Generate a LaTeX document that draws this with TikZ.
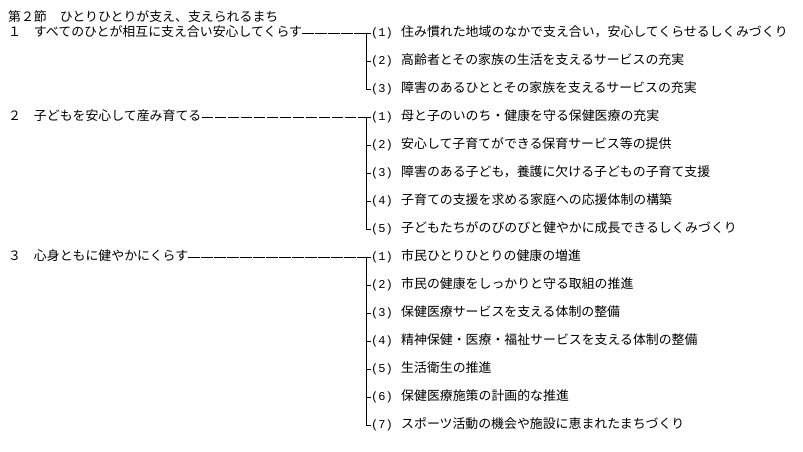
\documentclass[tikz,border=0pt]{standalone}
\usepackage{fontspec}
\newfontfamily\jpfont{Noto Sans CJK JP}
\newfontfamily\numfont{Liberation Mono}
\begin{document}
\begin{tikzpicture}[x=1pt,y=-1pt,line join=round,font=\jpfont\fontsize{12.9}{14}\selectfont,
    inner sep=0pt,
    txt/.style={anchor=west,text height=10pt,text depth=2.5pt},
    num/.style={txt,font=\numfont\fontsize{12}{14}\selectfont},
    rule/.style={line width=.8pt},
    dashrule/.style={rule,dash pattern=on 11.5pt off 1.5pt}]
    \useasboundingbox (0,0) rectangle (803,451);
    \def\bx{366} % x of the branch line
    \def\nx{371} % x of the numbers
    \def\tx{401} % x of the item texts
    \node[txt] (title) at (8,18) {第２節　ひとりひとりが支え、支えられるまち};
    % group 1
    \node[txt] (g1) at (8,33) {１　すべてのひとが相互に支え合い安心してくらす};
    \coordinate (b1) at (\bx,33);
    \draw[dashrule] (g1.east) -- (b1);
    \foreach \t [count=\i] in {住み慣れた地域のなかで支え合い，安心してくらせるしくみづくり,
        高齢者とその家族の生活を支えるサービスの充実,
        障害のあるひととその家族を支えるサービスの充実}{
        \node[num] (g1n\i) at (\nx,5+28*\i) {(\i)};
        \node[txt] (g1t\i) at (\tx,5+28*\i) {\t};
        \draw[rule] (b1 |- g1n\i.west) -- (g1n\i.west);
    }
    \draw[rule] (b1) -- (b1 |- g1n3.west);
    % group 2
    \node[txt] (g2) at (8,117) {２　子どもを安心して産み育てる};
    \coordinate (b2) at (\bx,117);
    \draw[dashrule] (g2.east) -- (b2);
    \foreach \t [count=\i] in {母と子のいのち・健康を守る保健医療の充実,
        安心して子育てができる保育サービス等の提供,
        障害のある子ども，養護に欠ける子どもの子育て支援,
        子育ての支援を求める家庭への応援体制の構築,
        子どもたちがのびのびと健やかに成長できるしくみづくり}{
        \node[num] (g2n\i) at (\nx,89+28*\i) {(\i)};
        \node[txt] (g2t\i) at (\tx,89+28*\i) {\t};
        \draw[rule] (b2 |- g2n\i.west) -- (g2n\i.west);
    }
    \draw[rule] (b2) -- (b2 |- g2n5.west);
    % group 3
    \node[txt] (g3) at (8,257) {３　心身ともに健やかにくらす};
    \coordinate (b3) at (\bx,257);
    \draw[dashrule] (g3.east) -- (b3);
    \foreach \t [count=\i] in {市民ひとりひとりの健康の増進,
        市民の健康をしっかりと守る取組の推進,
        保健医療サービスを支える体制の整備,
        精神保健・医療・福祉サービスを支える体制の整備,
        生活衛生の推進,
        保健医療施策の計画的な推進,
        スポーツ活動の機会や施設に恵まれたまちづくり}{
        \node[num] (g3n\i) at (\nx,229+28*\i) {(\i)};
        \node[txt] (g3t\i) at (\tx,229+28*\i) {\t};
        \draw[rule] (b3 |- g3n\i.west) -- (g3n\i.west);
    }
    \draw[rule] (b3) -- (b3 |- g3n7.west);
\end{tikzpicture}
\end{document}
